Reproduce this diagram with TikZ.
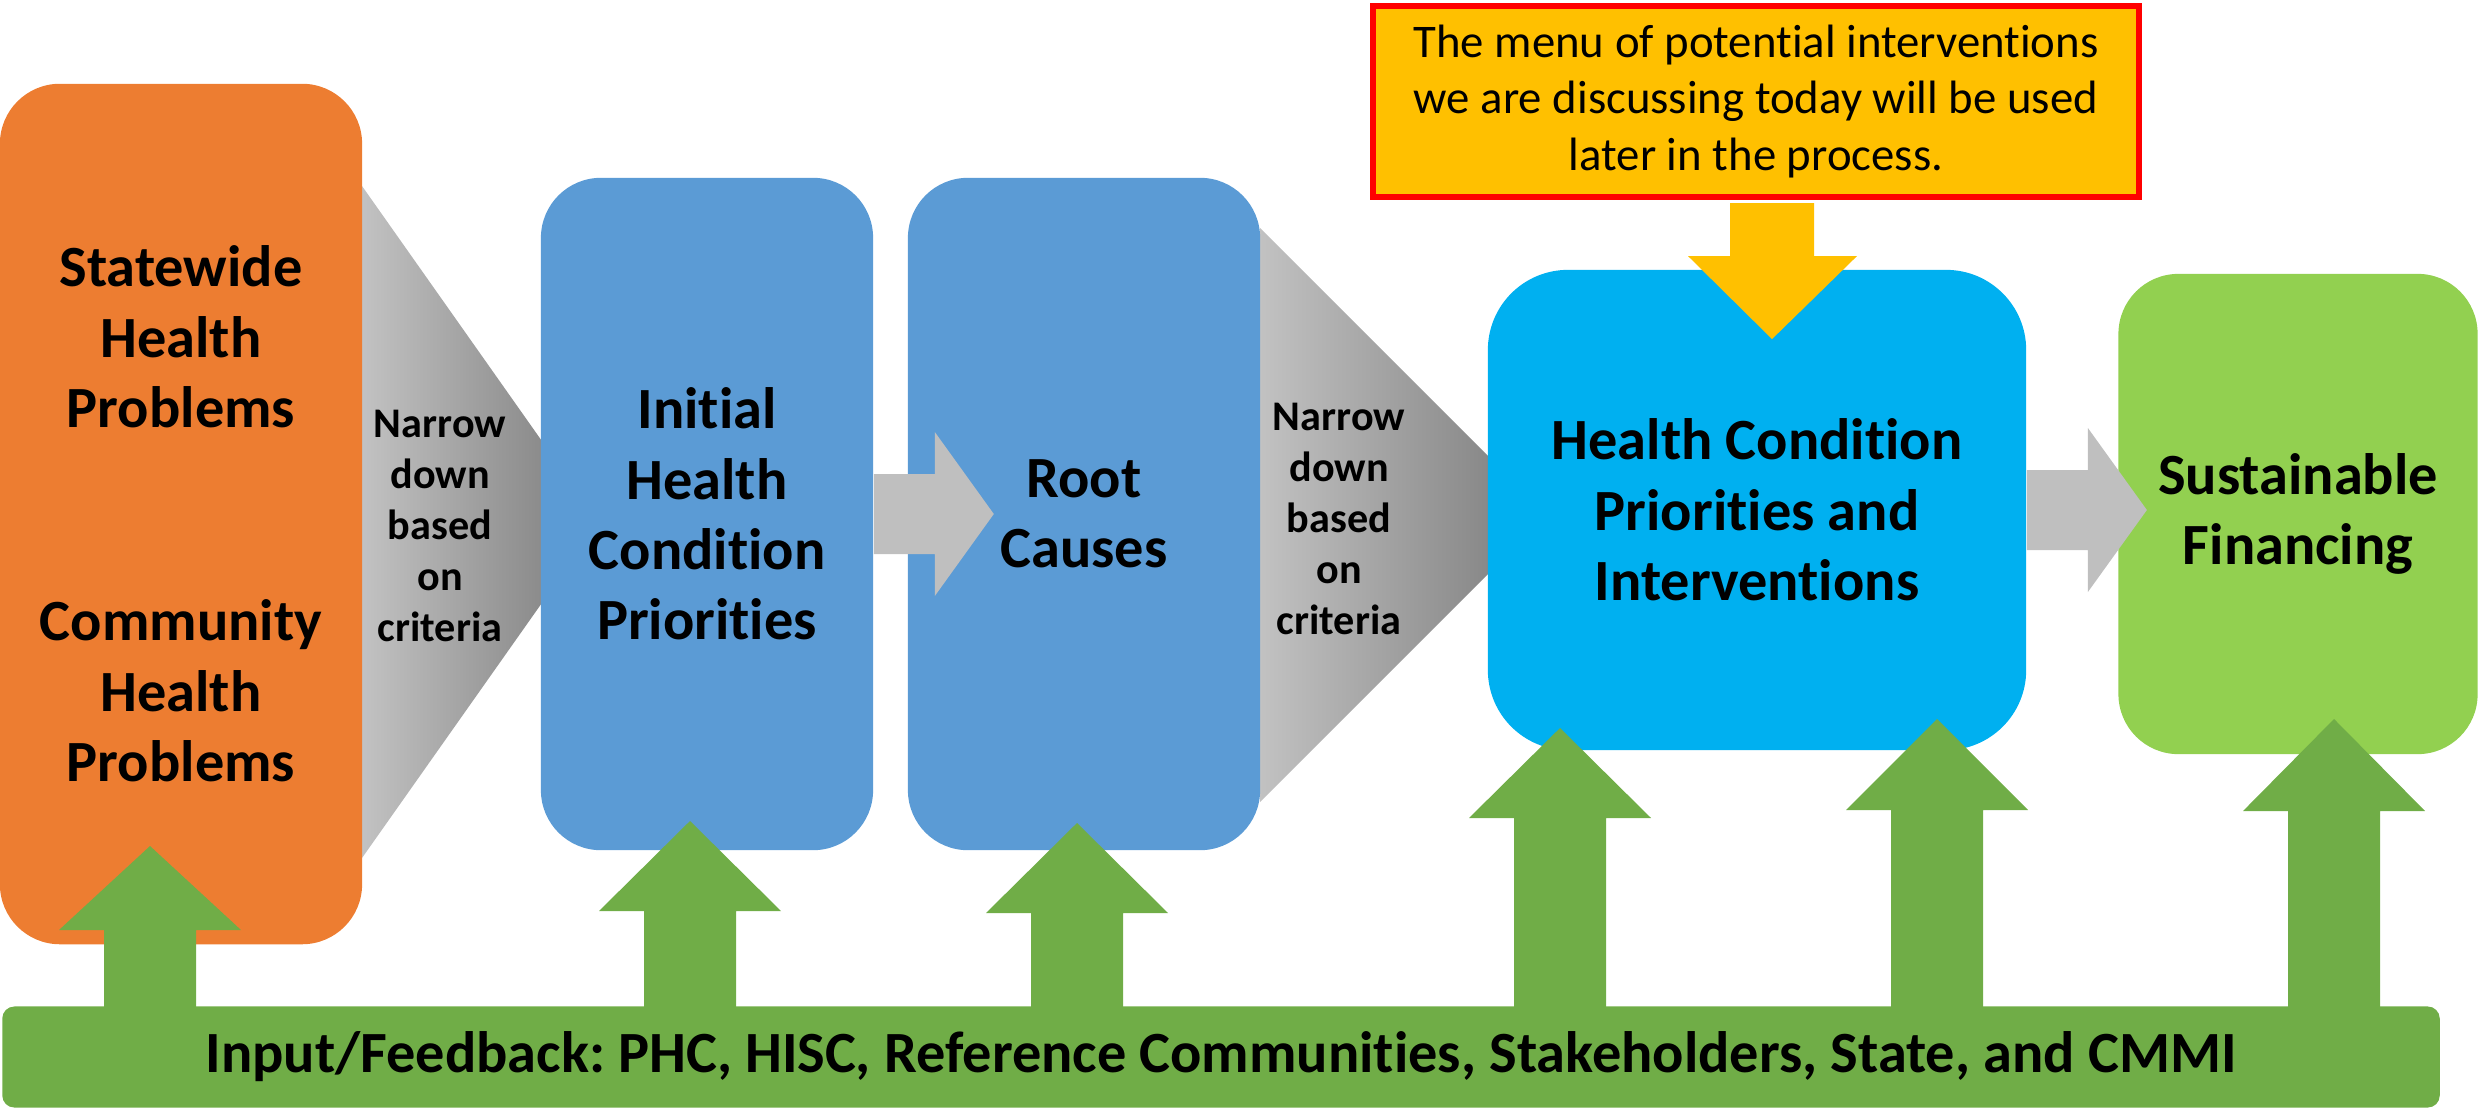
\documentclass[tikz,border=0pt]{standalone}
\usepackage{fontspec}
\setmainfont{Carlito}[Ligatures=NoCommon]
\usepackage{tikz}
\usetikzlibrary{positioning}
\definecolor{boxorange}{HTML}{ED7D31}
\definecolor{boxblue}{HTML}{5B9BD5}
\definecolor{boxcyan}{HTML}{00B0F0}
\definecolor{boxlime}{HTML}{92D050}
\definecolor{feedgreen}{HTML}{70AD47}
\definecolor{notegold}{HTML}{FFC000}
\definecolor{arrowgray}{HTML}{BFBFBF}
\definecolor{funnellight}{HTML}{C2C2C2}
\definecolor{funneldark}{HTML}{7A7A7A}
\def\funnel(#1,#2,#3,#4){\shade [left color=funnellight,right color=funneldark] (#1,#2-#3) -- (#1+#4,#2) -- (#1,#2+#3) -- cycle;}
\def\feed(#1,#2,#3){\fill [feedgreen] (#1-46,1012) -- (#1-46,#3) -- (#1-91,#3) -- (#1,#2) -- (#1+91,#3) -- (#1+46,#3) -- (#1+46,1012) -- cycle;}
\def\sidearrow#1{\fill [arrowgray] (#1) ++(0,-40) -- ++(61,0) -- ++(0,-42) -- ++(59,82) -- ++(-59,82) -- ++(0,-42) -- ++(-61,0) -- cycle;}

\begin{document}
\frenchspacing
\begin{tikzpicture}[x=0.01cm,y=-0.01cm,
  box/.style={rounded corners=0.6cm,align=center,inner sep=0pt,
    font=\bfseries\fontsize{16.6}{20}\selectfont},
  narrow/.style={align=center,inner sep=0pt,
    font=\bfseries\fontsize{12}{14.5}\selectfont}]
\useasboundingbox (0,0) rectangle (2483,1118);
\funnel(362,522,336,237)
\funnel(1260,515,287,287)
\node[box,fill=boxorange,minimum width=3.62cm,minimum height=8.6cm] (problems) at (181,514)
  {Statewide\\Health\\Problems\\[1.43cm]Community\\Health\\Problems};
\node[box,fill=boxblue,minimum width=3.32cm,minimum height=6.72cm] (initial) at (707,514)
  {Initial\\Health\\Condition\\Priorities};
\node[box,fill=boxblue,minimum width=3.52cm,minimum height=6.72cm] (root) at (1084,514)
  {Root\\Causes};
\node[box,fill=boxcyan,rounded corners=0.8cm,minimum width=5.38cm,minimum height=4.8cm] (priorities) at (1757,510)
  {Health Condition\\Priorities and\\Interventions};
\node[box,fill=boxlime,minimum width=3.59cm,minimum height=4.8cm] (financing) at (2298,514)
  {Sustainable\\Financing};
\node[narrow] (narrow1) at (440,526) {Narrow\\down\\based\\on\\criteria};
\node[narrow] (narrow2) at (1339,519) {Narrow\\down\\based\\on\\criteria};
\sidearrow{initial.east}
\sidearrow{priorities.east}
\node[draw=red,line width=0.06cm,fill=notegold,minimum width=7.65cm,minimum height=1.91cm,
  align=center,inner sep=0pt,font=\fontsize{13.3}{16.2}\selectfont] (menu) at (1756,101.5)
  {The menu of potential interventions\\we are discussing today will be used\\later in the process.};
\fill [notegold] (menu.south) ++(-26,3) -- ++(0,53) -- ++(-42,0) -- ++(84,83) -- ++(85,-83)
  -- ++(-43,0) -- ++(0,-53) -- cycle;
\node[fill=feedgreen,rounded corners=0.12cm,minimum width=24.36cm,minimum height=1.01cm,
  inner sep=0pt,font=\bfseries\fontsize{16.6}{20}\selectfont] (input) at (1221,1057)
  {Input/Feedback: PHC, HISC, Reference Communities, Stakeholders, State, and CMMI};
\feed(150,846,930)
\feed(690,821,911)
\feed(1077,823,913)
\feed(1560,728,818)
\feed(1937,719,810)
\feed(2334,719,811)
\end{tikzpicture}
\end{document}
